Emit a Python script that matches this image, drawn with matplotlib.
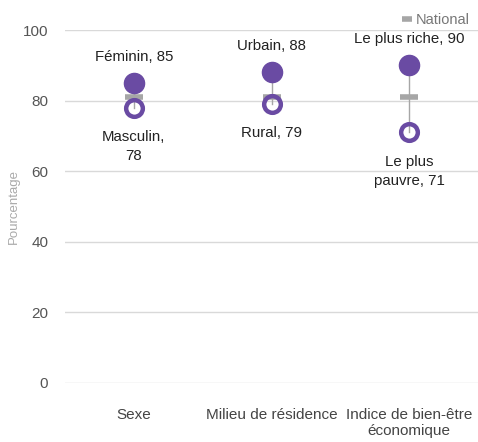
import matplotlib.pyplot as plt
import numpy as np

categories = ['Sexe', 'Milieu de résidence', 'Indice de bien-être\néconomique']
high_values = [85, 88, 90]
low_values = [78, 79, 71]
national = [81, 81, 81]
high_labels = ['Féminin, 85', 'Urbain, 88', 'Le plus riche, 90']
low_labels = ['Masculin,\n78', 'Rural, 79', 'Le plus\npauvre, 71']

purple = '#6A4BA3'
gray = '#A6A6A6'

plt.rcParams['font.family'] = ['Liberation Sans', 'DejaVu Sans']

fig = plt.figure(figsize=(4.78, 4.42), dpi=100)
ax = fig.add_axes([0.136, 0.1335, 0.864, 0.7985])

x = np.arange(len(categories))

for i in x:
    ax.plot([i, i], [low_values[i], high_values[i]], color=gray, lw=1, zorder=2)

ax.plot(x, national, linestyle='none', marker='_', markersize=13, markeredgewidth=4,
        color=gray, zorder=3, label='National')
ax.plot(x, high_values, linestyle='none', marker='o', markersize=14.5,
        color=purple, zorder=4, clip_on=False)
ax.plot(x, low_values, linestyle='none', marker='o', markersize=12,
        markerfacecolor='none', markeredgecolor=purple, markeredgewidth=3.2, zorder=4)

for i in x:
    ax.annotate(high_labels[i], (i, high_values[i]), xytext=(0, 14), textcoords='offset points',
                ha='center', va='bottom', fontsize=10.8, color='#222222')
    ax.annotate(low_labels[i], (i, low_values[i]), xytext=(0, -16), textcoords='offset points',
                ha='center', va='top', fontsize=10.8, color='#222222', linespacing=1.45)

ax.set_xlim(-0.5, 2.5)
ax.set_ylim(0, 100)
ax.set_yticks([0, 20, 40, 60, 80, 100])
ax.set_xticks(x)
ax.set_xticklabels(categories, fontsize=11, color='#444444', linespacing=1.2)
ax.tick_params(axis='y', length=0, labelsize=11, labelcolor='#555555', pad=12)
ax.tick_params(axis='x', length=0, pad=18)
ax.grid(axis='y', color='#D9D9D9', lw=1)
ax.set_axisbelow(True)
for s in ax.spines.values():
    s.set_visible(False)
ax.set_ylabel('Pourcentage', fontsize=9.5, color='#AAAAAA', labelpad=2)

leg = fig.legend(loc='upper right', bbox_to_anchor=(1.01, 1.0), frameon=False,
                 fontsize=10.5, handlelength=0.8, handletextpad=0.2, markerscale=0.6)
for t in leg.get_texts():
    t.set_color('#777777')

plt.savefig('out.png', dpi=100)
